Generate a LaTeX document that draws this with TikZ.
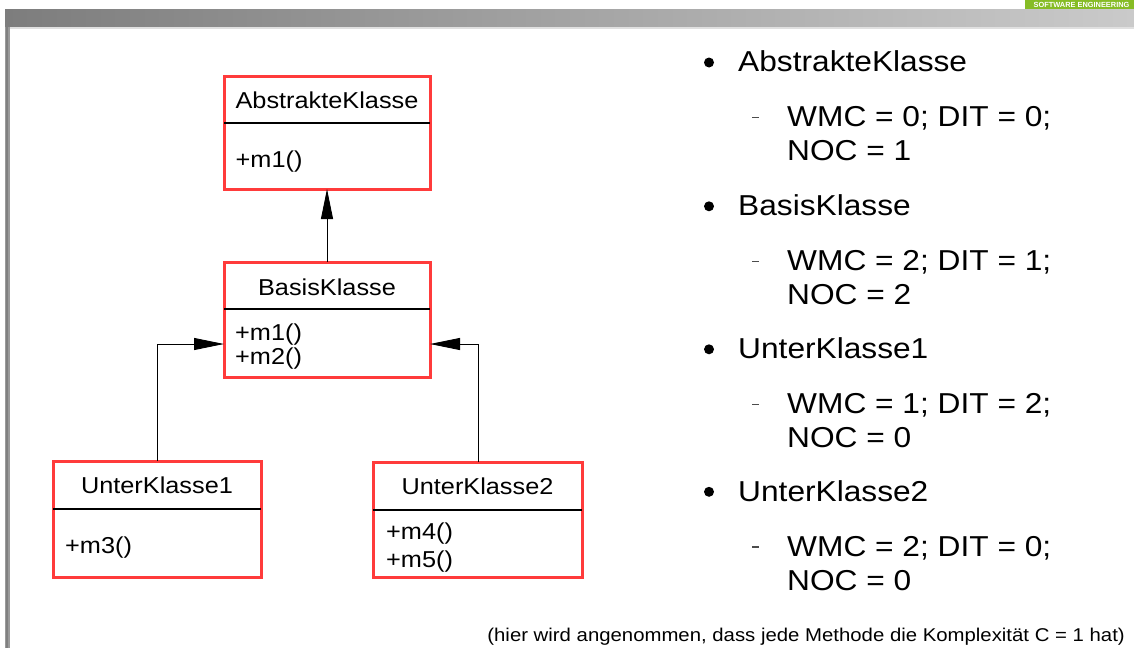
\documentclass[tikz,border=0pt]{standalone}
\usepackage{fontspec}
\usepackage{graphicx}
\setmainfont{Liberation Sans}
\usetikzlibrary{arrows.meta}
\definecolor{umlred}{HTML}{FF3B3B}
\definecolor{seggreen}{HTML}{86BC25}
\definecolor{bandL}{HTML}{7D7D7D}
\definecolor{bandR}{HTML}{CACACA}
\definecolor{borderg}{HTML}{9A9A9A}
\newcommand{\hstr}[1]{\scalebox{1.1}[1]{#1}}
\tikzset{
  umlbox/.style={draw=umlred, line width=3pt, inner sep=0pt, outer sep=0pt, fill=white},
  divider/.style={black, line width=1.4pt},
  boxtitle/.style={inner sep=0pt, anchor=base, font=\fontsize{23}{26}\selectfont},
  boxmeth/.style={inner sep=0pt, anchor=base west, font=\fontsize{23}{26}\selectfont},
  inh/.style={draw, line width=0.9pt, -{Triangle[length=30pt,width=12pt]}},
  bultxt/.style={inner sep=0pt, anchor=base west, font=\fontsize{28.8}{30}\selectfont},
  bulldot/.style={fill=black},
  subdash/.style={draw=black!70, line width=1.3pt},
  note/.style={inner sep=0pt, anchor=base east, font=\fontsize{18.5}{20}\selectfont}
}
\begin{document}
\begin{tikzpicture}[x=1pt,y=-1pt]
\useasboundingbox (0,0) rectangle (1134,648);
\fill[white] (0,0) rectangle (1134,648);
% header
\shade[left color=bandL, right color=bandR] (5,9) rectangle (1134,27);
\fill[black!12] (5,27) rectangle (1134,29);
\fill[borderg] (5,27) rectangle (9.5,648);
\fill[black!50] (6,27) rectangle (7.5,648);
\fill[seggreen] (1025,0) rectangle (1134,9);
\node[inner sep=0pt, text=white, font=\fontsize{7.4}{8}\selectfont\bfseries] (seg) at (1081.5,4.8) {SOFTWARE ENGINEERING};

% UML boxes
\node[umlbox, minimum width=206pt, minimum height=113pt] (A) at (327,132.5) {};
\draw[divider] (224,123) -- (430,123);
\node[boxtitle] (At) at (327,108.2) {\hstr{AbstrakteKlasse}};
\node[boxmeth] (Am) at (235.5,167) {\hstr{+m1()}};

\node[umlbox, minimum width=206pt, minimum height=115pt] (B) at (327,319.5) {};
\draw[divider] (224,309) -- (430,309);
\node[boxtitle] (Bt) at (327,295) {\hstr{BasisKlasse}};
\node[boxmeth] (Bm1) at (235,340) {\hstr{+m1()}};
\node[boxmeth] (Bm2) at (235,364) {\hstr{+m2()}};

\node[umlbox, minimum width=208pt, minimum height=116pt] (U1) at (157,519) {};
\draw[divider] (53,509) -- (261,509);
\node[boxtitle] (U1t) at (157,493) {\hstr{UnterKlasse1}};
\node[boxmeth] (U1m) at (65,553) {\hstr{+m3()}};

\node[umlbox, minimum width=209pt, minimum height=115pt] (U2) at (477.5,519.5) {};
\draw[divider] (373,510) -- (582,510);
\node[boxtitle] (U2t) at (477.5,494.5) {\hstr{UnterKlasse2}};
\node[boxmeth] (U2m1) at (386,539.5) {\hstr{+m4()}};
\node[boxmeth] (U2m2) at (386,567.5) {\hstr{+m5()}};

% connectors
\draw[inh] (B.north) -- (A.south);
\draw[inh] (U1.north) |- ([yshift=-24.5pt]B.west);
\draw[inh] ([xshift=1pt]U2.north) |- ([yshift=-24.5pt]B.east);

% right list
\fill[bulldot] (709,62.5) circle (5);
\node[bultxt] (l1) at (738,71.7) {\hstr{AbstrakteKlasse}};
\draw[subdash] (752,117.7) -- (758.5,117.7);
\node[bultxt] (l1a) at (787,126.7) {\hstr{WMC = 0; DIT = 0;}};
\node[bultxt] (l1b) at (787,160.7) {\hstr{NOC = 1}};

\fill[bulldot] (709,206.3) circle (5);
\node[bultxt] (l2) at (738,215.5) {\hstr{BasisKlasse}};
\draw[subdash] (752,261.5) -- (758.5,261.5);
\node[bultxt] (l2a) at (787,270.5) {\hstr{WMC = 2; DIT = 1;}};
\node[bultxt] (l2b) at (787,304.5) {\hstr{NOC = 2}};

\fill[bulldot] (709,349.3) circle (5);
\node[bultxt] (l3) at (738,358.5) {\hstr{UnterKlasse1}};
\draw[subdash] (752,404.5) -- (758.5,404.5);
\node[bultxt] (l3a) at (787,413.5) {\hstr{WMC = 1; DIT = 2;}};
\node[bultxt] (l3b) at (787,447.5) {\hstr{NOC = 0}};

\fill[bulldot] (709,491.8) circle (5);
\node[bultxt] (l4) at (738,501) {\hstr{UnterKlasse2}};
\draw[subdash] (752,547) -- (758.5,547);
\node[bultxt] (l4a) at (787,556) {\hstr{WMC = 2; DIT = 0;}};
\node[bultxt] (l4b) at (787,590) {\hstr{NOC = 0}};

\node[note] (nt) at (1125,641) {\hstr{(hier wird angenommen, dass jede Methode die Komplexität C = 1 hat)}};
\end{tikzpicture}
\end{document}
